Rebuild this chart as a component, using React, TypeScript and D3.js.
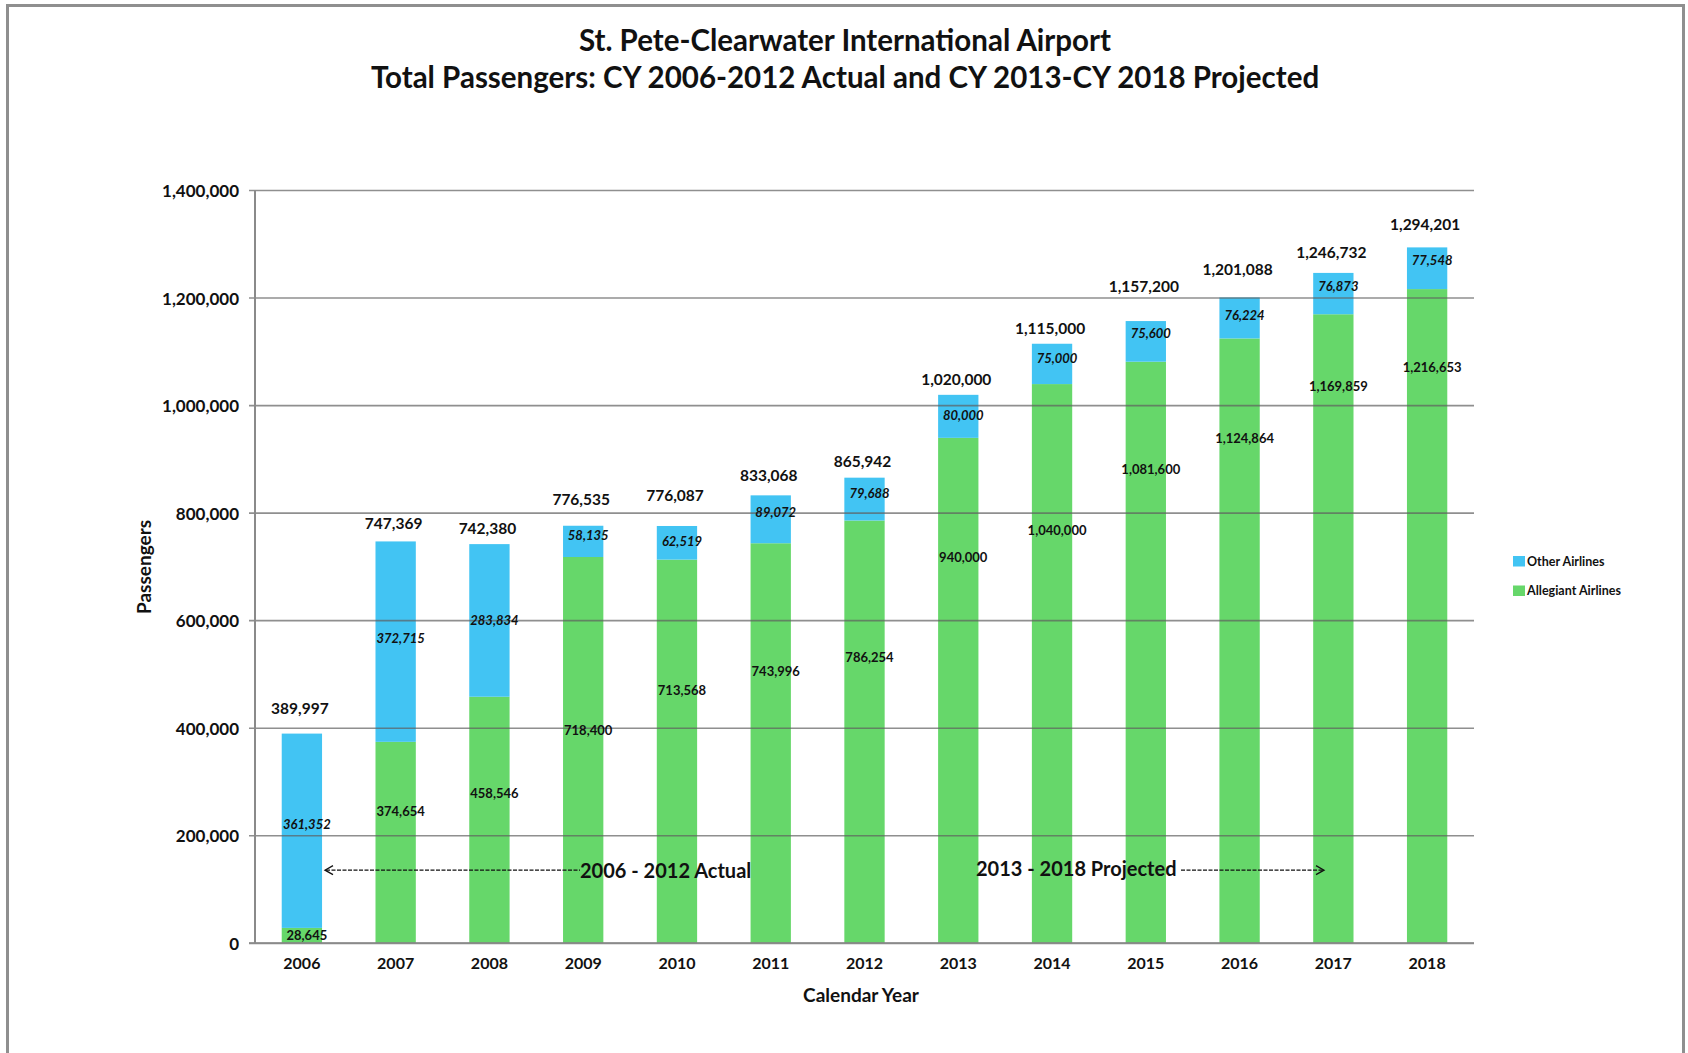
import React from "react";
import * as d3 from "d3";

const years = ["2006","2007","2008","2009","2010","2011","2012","2013","2014","2015","2016","2017","2018"];
const allegiant = [28645, 374654, 458546, 718400, 713568, 743996, 786254, 940000, 1040000, 1081600, 1124864, 1169859, 1216653];
const other = [361352, 372715, 283834, 58135, 62519, 89072, 79688, 80000, 75000, 75600, 76224, 76873, 77548];
const totals = [389997, 747369, 742380, 776535, 776087, 833068, 865942, 1020000, 1115000, 1157200, 1201088, 1246732, 1294201];
// where the (hand-placed) data labels sit, in passengers
const otherLabelAt = [221000, 567000, 601000, 760000, 749000, 803000, 838000, 983000, 1089000, 1135000, 1169000, 1223000, 1271000];
const allegiantLabelAt = [16000, 246000, 280000, 397000, 471000, 507000, 533000, 719000, 768000, 882000, 939000, 1036000, 1071000];
const totalLabelAt = [437000, 782000, 773000, 826000, 834000, 871000, 897000, 1050000, 1144000, 1223000, 1254000, 1285000, 1338000];
const yTicks = [0, 200000, 400000, 600000, 800000, 1000000, 1200000, 1400000];
const seriesNames = ["Other Airlines", "Allegiant Airlines"];
const titleLines = ["St. Pete-Clearwater International Airport", "Total Passengers: CY 2006-2012 Actual and CY 2013-CY 2018 Projected"];
const annotationActual = "2006 - 2012 Actual";
const annotationProjected = "2013 - 2018 Projected";

const W = 1688, H = 1053;
const BLUE = "#42C4F3";
const GREEN = "#66D76A";
const FONT = "Lato, 'Open Sans', sans-serif";

export default function App() {
  const x = d3.scaleBand<string>().domain(years).range([255, 1474]).paddingInner(0.57).paddingOuter(0.285);
  const y = d3.scaleLinear().domain([0, 1400000]).range([943.3, 190.5]);
  const fmt = d3.format(",");
  const bw = x.bandwidth();
  const cx = (i: number) => (x(years[i]) as number) + bw / 2;
  const annY = y(136000);

  return (
    <svg width={W} height={H} style={{ position: "absolute", left: 0, top: 0, background: "#fff" }} fontFamily={FONT}>
      <rect x={7.5} y={5.5} width={1676} height={1070} fill="#fff" stroke="#8f8f8f" strokeWidth={3} />
      {/* title */}
      <text x={845} y={39} textAnchor="middle" dominantBaseline="central" fontSize={29.5} fontWeight={700} fill="#111">{titleLines[0]}</text>
      <text x={845} y={76} textAnchor="middle" dominantBaseline="central" fontSize={29.5} fontWeight={700} fill="#111">{titleLines[1]}</text>

      {/* bars */}
      {years.map((yr, i) => (
        <g key={yr}>
          <rect x={x(yr)} y={y(allegiant[i])} width={bw} height={y(0) - y(allegiant[i])} fill={GREEN} />
          <rect x={x(yr)} y={y(allegiant[i] + other[i])} width={bw} height={y(allegiant[i]) - y(allegiant[i] + other[i])} fill={BLUE} />
        </g>
      ))}

      {/* gridlines */}
      {yTicks.map((t) => (
        <g key={t}>
          <line x1={249} x2={1474} y1={y(t)} y2={y(t)} stroke="#5f5f5f" strokeOpacity={0.7} strokeWidth={1.6} />
          <text x={239} y={y(t)} textAnchor="end" dominantBaseline="central" fontSize={17} fontWeight={700} fill="#111">{fmt(t)}</text>
        </g>
      ))}
      <line x1={255} x2={255} y1={y(1400000)} y2={y(0)} stroke="#8a8a8a" strokeWidth={2} />
      <line x1={249} x2={1474} y1={y(0)} y2={y(0)} stroke="#8a8a8a" strokeWidth={2} />

      {/* labels */}
      {years.map((yr, i) => (
        <g key={"l" + yr}>
          <text x={cx(i)} y={962} textAnchor="middle" dominantBaseline="central" fontSize={16} fontWeight={700} fill="#111">{yr}</text>
          <text x={cx(i) - 2} y={y(totalLabelAt[i])} textAnchor="middle" dominantBaseline="central" fontSize={15.5} fontWeight={700} fill="#111">{fmt(totals[i])}</text>
          <text x={cx(i) + 5} y={y(otherLabelAt[i])} textAnchor="middle" dominantBaseline="central" fontSize={13} fontWeight={700} fontStyle="italic" fill="#111">{fmt(other[i])}</text>
          <text x={cx(i) + 5} y={y(allegiantLabelAt[i])} textAnchor="middle" dominantBaseline="central" fontSize={13} fontWeight={700} fill="#111">{fmt(allegiant[i])}</text>
        </g>
      ))}

      {/* axis titles */}
      <text x={861} y={994} textAnchor="middle" dominantBaseline="central" fontSize={19} fontWeight={700} fill="#111">Calendar Year</text>
      <text transform={`translate(143,567) rotate(-90)`} textAnchor="middle" dominantBaseline="central" fontSize={19} fontWeight={700} fill="#111">Passengers</text>

      {/* annotations */}
      <line x1={326} x2={580} y1={annY} y2={annY} stroke="#111" strokeWidth={1.3} strokeDasharray="4 1.5" />
      <path d={`M${333},${annY - 4.5} L${325},${annY} L${333},${annY + 4.5}`} fill="none" stroke="#111" strokeWidth={1.3} />
      <text x={580} y={annY} dominantBaseline="central" fontSize={20} fontWeight={700} fill="#111">{annotationActual}</text>
      <text x={976} y={annY - 2} dominantBaseline="central" fontSize={20} fontWeight={700} fill="#111">{annotationProjected}</text>
      <line x1={1181} x2={1324} y1={annY} y2={annY} stroke="#111" strokeWidth={1.3} strokeDasharray="4 1.5" />
      <path d={`M${1316},${annY - 4.5} L${1324},${annY} L${1316},${annY + 4.5}`} fill="none" stroke="#111" strokeWidth={1.3} />

      {/* legend */}
      {seriesNames.map((s, i) => (
        <g key={s}>
          <rect x={1513} y={556 + i * 29.5} width={12} height={10.5} fill={i === 0 ? BLUE : GREEN} />
          <text x={1527} y={561 + i * 29.5} dominantBaseline="central" fontSize={12.5} fontWeight={700} fill="#111">{s}</text>
        </g>
      ))}
    </svg>
  );
}
